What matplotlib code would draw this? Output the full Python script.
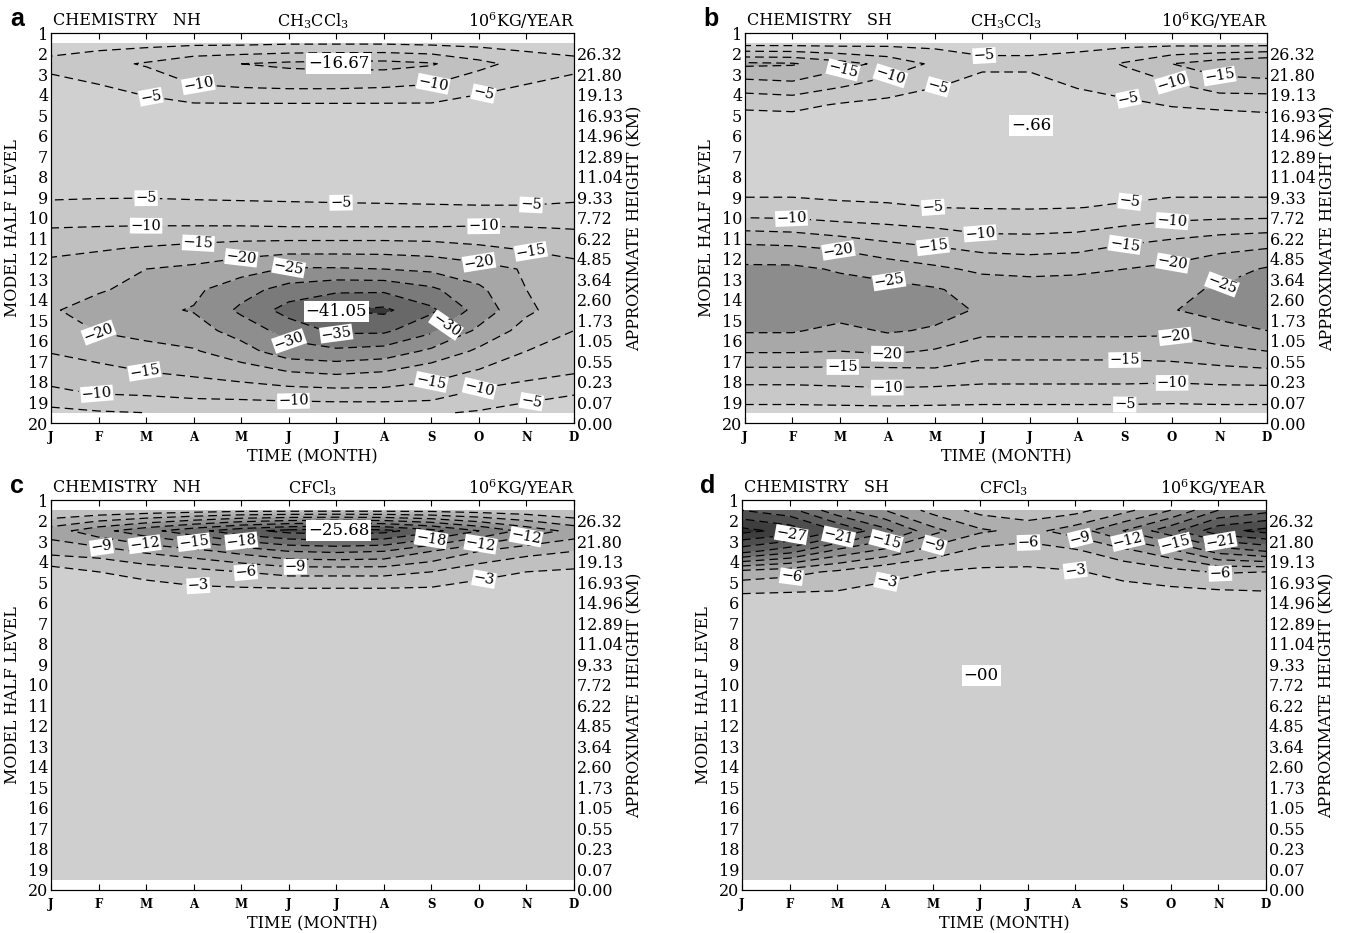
import numpy as np
import matplotlib
matplotlib.use("Agg")
import matplotlib.pyplot as plt

plt.rcParams['font.family'] = ['DejaVu Serif']
plt.rcParams['mathtext.fontset'] = 'dejavuserif'

# ---------------- data ----------------
months = ['J', 'F', 'M', 'A', 'M', 'J', 'J', 'A', 'S', 'O', 'N', 'D']
half_levels = list(range(1, 21))
heights = ['', '26.32', '21.80', '19.13', '16.93', '14.96', '12.89', '11.04', '9.33', '7.72',
           '6.22', '4.85', '3.64', '2.60', '1.73', '1.05', '0.55', '0.23', '0.07', '0.00']
# model full levels where the field is given (1.5 ... 19.5)
rows = [1.5, 2.5, 3.5, 4.5, 5.5, 6.5, 7.5, 8.5, 9.5, 10.5,
        11.5, 12.5, 13.5, 14.5, 15.5, 16.5, 17.5, 18.5, 19.5]

# a: NH CH3CCl3 (10^6 kg/year), one row per level, J..D
nh_ch3ccl3 = [
    [-2.5, -3, -3.5, -4, -4, -4.5, -4.5, -4.5, -4, -3.5, -3, -2.5],
    [-6.5, -8.5, -10.5, -13.5, -15, -16, -16.5, -16.67, -15.5, -11.5, -8, -6.5],
    [-3.5, -5, -7, -10, -11, -11.5, -11.5, -11, -10, -7, -5, -3.5],
    [-1.5, -2.5, -3.5, -4.5, -4.5, -4.5, -4.5, -4.5, -4.5, -3, -2.5, -1.5],
    [-1.2, -1.3, -1.5, -1.7, -1.8, -1.8, -1.8, -1.8, -1.7, -1.5, -1.3, -1.2],
    [-2.0, -2.0, -2.1, -2.1, -2.1, -2.0, -2.0, -2.0, -2.0, -2.0, -2.0, -2.0],
    [-2.6, -2.7, -2.7, -2.6, -2.6, -2.6, -2.5, -2.5, -2.5, -2.5, -2.5, -2.6],
    [-3.6, -3.7, -3.8, -3.7, -3.6, -3.5, -3.4, -3.4, -3.4, -3.4, -3.4, -3.5],
    [-5.8, -6, -6, -5.8, -5.7, -5.6, -5.5, -5.4, -5.3, -5.2, -5.2, -5.5],
    [-10, -10.3, -10.5, -10.5, -10.5, -10.3, -10.3, -10.3, -10.3, -10.5, -10.2, -9.8],
    [-13.5, -14.5, -15.5, -16.5, -17.5, -18, -18, -18, -17.5, -16, -14.5, -13],
    [-17, -18, -20, -21, -23, -25.5, -25.5, -25, -24, -22, -19.5, -17],
    [-18.5, -19.5, -21.5, -24, -28, -32, -34, -34, -31, -26, -20, -17.5],
    [-19.5, -22, -24, -25.3, -31, -37, -40, -41.05, -36, -28, -21, -17],
    [-17, -20.3, -21.5, -23, -27, -32, -36, -36, -31, -24, -18, -15],
    [-15.3, -17, -18.5, -19.5, -23, -28, -29, -28, -24, -19, -15, -13],
    [-12.5, -13.5, -15, -16, -17.5, -20, -21, -20, -17, -14.5, -12, -10.5],
    [-9, -10.5, -11, -12, -12.5, -13, -13.5, -13.5, -13, -9, -7.5, -5.5],
    [-3.5, -4.5, -5, -5.5, -5.5, -6, -6, -6, -5.5, -4.5, -2.5, -2],
]

# b: SH CH3CCl3
sh_ch3ccl3 = [
    [-3, -3, -3, -3.5, -3.5, -3.5, -3.5, -3.5, -3.5, -3.5, -3, -3],
    [-21, -20.5, -17, -13.5, -9, -6, -6, -7, -10.5, -15, -18, -20],
    [-13, -14, -11, -8, -5.5, -3.5, -3.5, -5.5, -7, -9.5, -13, -13],
    [-6, -6.5, -4.5, -3.5, -2.5, -2, -2, -3, -4, -5.3, -6, -6.5],
    [-2, -2, -1.8, -1.5, -1.2, -0.9, -0.66, -1, -1.5, -2, -2, -2.5],
    [-2, -2, -1.8, -1.6, -1.4, -1.2, -1.1, -1.3, -1.6, -2, -2, -2],
    [-2.8, -2.8, -2.6, -2.4, -2.2, -2, -2, -2.1, -2.4, -2.7, -2.8, -2.8],
    [-4, -4, -4, -4, -3.5, -3, -3, -3, -3.5, -4, -4, -4],
    [-6, -6, -5.5, -5.3, -5, -4.8, -4.7, -4.9, -5.5, -6, -6, -6],
    [-14, -13.5, -12, -11, -10, -8.5, -8.5, -9, -10.5, -12, -13, -13.5],
    [-21.5, -21, -19.5, -17, -15.5, -14, -13.5, -14, -16, -17.5, -19, -20],
    [-26, -26, -24.5, -23, -21, -19, -18.5, -19, -20, -21, -23, -25.5],
    [-27.5, -27.5, -27, -26.5, -25.5, -23, -22.5, -22.5, -23, -24, -25.5, -27],
    [-28, -28, -27.5, -27.5, -26.5, -24.5, -24, -24, -24, -24.8, -26.5, -27.5],
    [-25.5, -25.5, -23.5, -25.5, -24.5, -21.5, -21.5, -21.5, -21.5, -21, -23.5, -25],
    [-20.5, -20.5, -20, -21, -19.5, -16.5, -16.5, -16.5, -16.5, -17, -18.5, -20],
    [-13.5, -13.5, -13.5, -13.5, -14, -13, -13, -13, -13, -13, -13.5, -14],
    [-8, -8, -8.5, -9, -8.5, -8, -8, -8, -8, -7.5, -8, -8],
    [-3, -3, -3, -3, -3, -3, -3, -3, -3, -3, -3, -3],
]

# c: NH CFCl3
nh_cfcl3 = [
    [-3, -3.5, -4, -4.5, -5, -5, -5, -5, -5, -4.5, -4, -3],
    [-10.5, -14, -17, -20, -23, -25, -25.68, -25, -22, -18, -14, -11],
    [-7, -7.5, -9.5, -11, -13, -15, -15.5, -15, -12, -9, -7, -6],
    [-1.5, -3, -4, -5, -6, -7, -7, -7, -6, -4, -3, -2.5],
    [-1.2, -1.3, -1.5, -2, -2, -2, -2, -2, -2, -1.5, -1.5, -1.2],
    [-1.0, -1.0, -1.1, -1.2, -1.3, -1.3, -1.3, -1.3, -1.2, -1.1, -1.0, -1.0],
    [-0.8, -0.8, -0.9, -0.9, -1.0, -1.0, -1.0, -1.0, -0.9, -0.9, -0.8, -0.8],
    [-0.7, -0.7, -0.7, -0.8, -0.8, -0.8, -0.8, -0.8, -0.8, -0.7, -0.7, -0.7],
    [-0.6, -0.6, -0.6, -0.7, -0.7, -0.7, -0.7, -0.7, -0.7, -0.6, -0.6, -0.6],
    [-0.6, -0.6, -0.6, -0.6, -0.7, -0.7, -0.7, -0.7, -0.6, -0.6, -0.6, -0.6],
    [-0.5, -0.5, -0.6, -0.6, -0.6, -0.6, -0.6, -0.6, -0.6, -0.6, -0.5, -0.5],
    [-0.5, -0.5, -0.5, -0.6, -0.6, -0.6, -0.6, -0.6, -0.6, -0.5, -0.5, -0.5],
    [-0.5, -0.5, -0.5, -0.5, -0.6, -0.6, -0.6, -0.6, -0.5, -0.5, -0.5, -0.5],
    [-0.5, -0.5, -0.5, -0.5, -0.5, -0.5, -0.5, -0.5, -0.5, -0.5, -0.5, -0.5],
    [-0.4, -0.4, -0.5, -0.5, -0.5, -0.5, -0.5, -0.5, -0.5, -0.5, -0.4, -0.4],
    [-0.4, -0.4, -0.4, -0.5, -0.5, -0.5, -0.5, -0.5, -0.5, -0.4, -0.4, -0.4],
    [-0.4, -0.4, -0.4, -0.4, -0.4, -0.5, -0.5, -0.4, -0.4, -0.4, -0.4, -0.4],
    [-0.4, -0.4, -0.4, -0.4, -0.4, -0.4, -0.4, -0.4, -0.4, -0.4, -0.4, -0.4],
    [-0.3, -0.3, -0.3, -0.4, -0.4, -0.4, -0.4, -0.4, -0.4, -0.3, -0.3, -0.3],
]

# d: SH CFCl3
sh_cfcl3 = [
    [-24, -22, -16, -12, -8, -5, -4, -5, -8, -12, -18, -20],
    [-31, -29, -24, -19, -13, -9.5, -8, -10.5, -15, -20, -26, -28],
    [-22, -19, -14, -11, -7.5, -5, -4.5, -5.5, -8, -11, -16, -18],
    [-8, -7, -5.5, -3.5, -3, -2.5, -2.5, -2.8, -3.8, -5, -6.3, -6],
    [-3.1, -3, -2.8, -2.5, -2, -1.8, -1.8, -2, -2, -2.2, -2.5, -2.8],
    [-1.5, -1.4, -1.3, -1.2, -1.1, -1, -1, -1, -1.1, -1.2, -1.3, -1.4],
    [-0.6, -0.6, -0.5, -0.5, -0.4, -0.4, -0.4, -0.4, -0.4, -0.5, -0.5, -0.6],
    [-0.2, -0.2, -0.2, -0.15, -0.1, -0.1, -0.1, -0.1, -0.15, -0.2, -0.2, -0.2],
    [-0.1, -0.08, -0.05, -0.03, -0.01, -0.004, -0.01, -0.02, -0.04, -0.06, -0.08, -0.1],
    [-0.1, -0.1, -0.08, -0.06, -0.04, -0.03, -0.04, -0.05, -0.06, -0.08, -0.1, -0.1],
    [-0.15, -0.15, -0.12, -0.1, -0.08, -0.07, -0.08, -0.09, -0.1, -0.12, -0.15, -0.15],
    [-0.2, -0.2, -0.15, -0.12, -0.1, -0.1, -0.1, -0.1, -0.12, -0.15, -0.2, -0.2],
    [-0.2, -0.2, -0.2, -0.15, -0.12, -0.12, -0.12, -0.12, -0.15, -0.2, -0.2, -0.2],
    [-0.25, -0.2, -0.2, -0.2, -0.15, -0.15, -0.15, -0.15, -0.2, -0.2, -0.2, -0.25],
    [-0.25, -0.25, -0.2, -0.2, -0.2, -0.2, -0.2, -0.2, -0.2, -0.2, -0.25, -0.25],
    [-0.3, -0.25, -0.25, -0.2, -0.2, -0.2, -0.2, -0.2, -0.2, -0.25, -0.25, -0.3],
    [-0.3, -0.3, -0.25, -0.25, -0.2, -0.2, -0.2, -0.2, -0.25, -0.25, -0.3, -0.3],
    [-0.3, -0.3, -0.3, -0.25, -0.25, -0.25, -0.25, -0.25, -0.25, -0.3, -0.3, -0.3],
    [-0.3, -0.3, -0.3, -0.3, -0.3, -0.3, -0.3, -0.3, -0.3, -0.3, -0.3, -0.3],
]

# shading classes (most negative first) and contour line values
fill_a = [-45, -40, -35, -30, -25, -20, -15, -10, -5, 0]
grey_a = ['#383838', '#686868', '#7a7a7a', '#8e8e8e', '#a6a6a6', '#b6b6b6', '#c0c0c0', '#c8c8c8', '#d0d0d0']
line_a = [-40, -35, -30, -25, -20, -15, -10, -5]

fill_b = [-30, -25, -20, -15, -10, -5, 0]
grey_b = ['#8c8c8c', '#a8a8a8', '#b6b6b6', '#c0c0c0', '#c8c8c8', '#d2d2d2']
line_b = [-25, -20, -15, -10, -5]

fill_c = [-27, -24, -21, -18, -15, -12, -9, -6, -3, 0]
grey_c = ['#4a4a4a', '#5c5c5c', '#6e6e6e', '#808080', '#929292', '#a4a4a4', '#b2b2b2', '#c0c0c0', '#cfcfcf']
line_c = [-24, -21, -18, -15, -12, -9, -6, -3]

fill_d = [-33, -30, -27, -24, -21, -18, -15, -12, -9, -6, -3, 0]
grey_d = ['#2e2e2e', '#3e3e3e', '#4e4e4e', '#5e5e5e', '#6e6e6e', '#7e7e7e', '#8e8e8e',
          '#9e9e9e', '#aeaeae', '#bebebe', '#cecece']
line_d = [-30, -27, -24, -21, -18, -15, -12, -9, -6, -3]

# where the contour labels sit (month index, half level)
lab_a = [(3.1, 3.5), (8.0, 3.2), (2.1, 4.1), (9.1, 4.0), (2.0, 9.0), (6.1, 9.3), (10.1, 9.5),
         (2.0, 10.35), (9.1, 10.4), (3.1, 11.3), (10.1, 11.55), (4.0, 11.9), (9.0, 12.2),
         (5.0, 12.4), (1.0, 15.6), (5.0, 16.1), (8.4, 15.5), (6.0, 15.7), (2.0, 17.1),
         (8.0, 18.0), (1.0, 17.9), (5.1, 18.8), (9.0, 18.2), (10.1, 18.9)]
lab_b = [(2.06, 2.75), (3.05, 3.0), (4.05, 3.5), (5.04, 2.35), (9.0, 3.4), (10.0, 3.07),
         (8.1, 4.0), (3.96, 9.55), (8.1, 9.06), (0.98, 10.0), (4.95, 10.84), (9.0, 10.1),
         (1.97, 11.57), (3.96, 11.4), (8.0, 11.3), (9.0, 12.1), (3.05, 12.9), (10.0, 13.0),
         (3.0, 16.7), (9.06, 15.85), (2.06, 17.3), (8.0, 16.9), (3.0, 18.2), (9.0, 17.96),
         (8.0, 18.9)]
lab_c = [(1.07, 3.15), (1.97, 3.15), (3.0, 3.15), (4.0, 3.07), (8.0, 3.0), (9.03, 3.07),
         (10.0, 2.9), (4.1, 4.45), (5.14, 4.1), (3.1, 5.0), (9.1, 4.77)]
lab_d = [(1.04, 2.75), (2.03, 2.83), (3.03, 3.0), (4.02, 3.07), (6.01, 3.15), (7.1, 2.83),
         (8.09, 3.07), (9.09, 3.15), (10.04, 3.07), (1.04, 4.77), (3.03, 4.93), (7.0, 4.28),
         (10.04, 4.53)]

# extreme-value labels
ext_a = [('\u221216.67', 6.05, 2.5), ('\u221241.05', 6.0, 14.55)]
ext_b = [('\u2212.66', 6.03, 5.5)]
ext_c = [('\u221225.68', 6.05, 2.5)]
ext_d = [('\u221200', 5.02, 9.55)]


def minus_fmt(v):
    return f"{v:.0f}".replace('-', '\u2212')


def draw_panel(ax, grid, fills, greys, lines, labpos, extremes, hemi, species, letter):
    x = np.arange(len(months))
    y = np.array(rows)
    z = np.array(grid)

    ax.contourf(x, y, z, levels=fills, colors=greys)
    cs = ax.contour(x, y, z, levels=lines, colors='black', linewidths=0.9,
                    linestyles=[(0, (7, 4))])
    labels = ax.clabel(cs, manual=labpos, fmt=minus_fmt, fontsize=10.5, inline=True,
                       inline_spacing=3)
    for t in labels:
        t.set_bbox(dict(facecolor='white', edgecolor='none', pad=0.6))
    for txt, ex, ey in extremes:
        ax.text(ex, ey, txt, ha='center', va='center', fontsize=12, zorder=5,
                bbox=dict(facecolor='white', edgecolor='none', pad=1.5))

    ax.set_xlim(0, 11)
    ax.set_ylim(20, 1)
    ax.set_xticks(x)
    ax.set_xticklabels(months, fontsize=8.5, fontweight='bold')
    ax.set_yticks(half_levels)
    ax.set_yticklabels([str(v) for v in half_levels], fontsize=11.5)
    ax.tick_params(axis='x', direction='in', length=4, top=True, pad=6)
    ax.tick_params(axis='y', direction='in', length=0, pad=2)
    ax.set_xlabel('TIME (MONTH)', fontsize=11.5)
    ax.xaxis.set_label_coords(0.5, -0.066)
    ax.set_ylabel('MODEL HALF LEVEL', fontsize=11.5)
    ax.yaxis.set_label_coords(-0.057, 0.5)

    ax2 = ax.twinx()
    ax2.set_ylim(20, 1)
    ax2.set_yticks(half_levels)
    ax2.set_yticklabels(heights, fontsize=11.5)
    ax2.tick_params(axis='y', length=0, pad=2)
    ax2.set_ylabel('APPROXIMATE HEIGHT (KM)', fontsize=11.5)
    ax2.yaxis.set_label_coords(1.1, 0.5)

    ax.text(0.004, 1.031, 'CHEMISTRY   ' + hemi, transform=ax.transAxes, ha='left',
            va='center', fontsize=11.5)
    ax.text(0.5, 1.031, species, transform=ax.transAxes, ha='center', va='center',
            fontsize=11.5)
    ax.text(1.0, 1.031, '10$^6$KG/YEAR', transform=ax.transAxes, ha='right',
            va='center', fontsize=11.5)
    ax.text(-0.065, 1.035, letter, transform=ax.transAxes, ha='center', va='center',
            fontsize=18, fontweight='bold', family=['Liberation Sans', 'DejaVu Sans'])


fig = plt.figure(figsize=(13.48, 9.33), dpi=100)
W, H = 1348, 933
ax_a = fig.add_axes([51 / W, 1 - 423 / H, 523 / W, 390 / H])
ax_b = fig.add_axes([745 / W, 1 - 423 / H, 522 / W, 390 / H])
ax_c = fig.add_axes([51 / W, 1 - 890 / H, 523 / W, 390 / H])
ax_d = fig.add_axes([742 / W, 1 - 890 / H, 524 / W, 390 / H])

draw_panel(ax_a, nh_ch3ccl3, fill_a, grey_a, line_a, lab_a, ext_a, 'NH', 'CH$_3$CCl$_3$', 'a')
draw_panel(ax_b, sh_ch3ccl3, fill_b, grey_b, line_b, lab_b, ext_b, 'SH', 'CH$_3$CCl$_3$', 'b')
draw_panel(ax_c, nh_cfcl3, fill_c, grey_c, line_c, lab_c, ext_c, 'NH', 'CFCl$_3$', 'c')
draw_panel(ax_d, sh_cfcl3, fill_d, grey_d, line_d, lab_d, ext_d, 'SH', 'CFCl$_3$', 'd')

fig.savefig('out.png', dpi=100)
